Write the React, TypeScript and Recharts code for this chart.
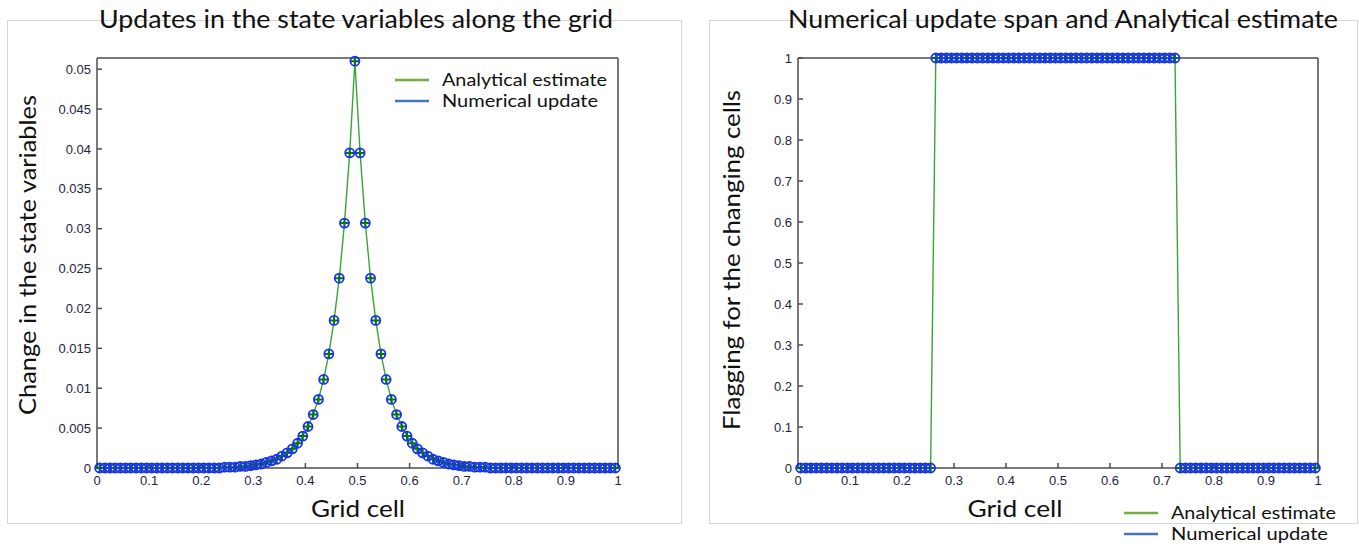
import React from "react"
import { LineChart, Line, XAxis, YAxis, Legend } from "recharts"

// grid cell centres along the unit domain
const gridCells = [
  0.005, 0.015, 0.025, 0.035, 0.045, 0.055, 0.065, 0.075, 0.085, 0.095,
  0.105, 0.115, 0.125, 0.135, 0.145, 0.155, 0.165, 0.175, 0.185, 0.195,
  0.205, 0.215, 0.225, 0.235, 0.245, 0.255, 0.265, 0.275, 0.285, 0.295,
  0.305, 0.315, 0.325, 0.335, 0.345, 0.355, 0.365, 0.375, 0.385, 0.395,
  0.405, 0.415, 0.425, 0.435, 0.445, 0.455, 0.465, 0.475, 0.485, 0.495,
  0.505, 0.515, 0.525, 0.535, 0.545, 0.555, 0.565, 0.575, 0.585, 0.595,
  0.605, 0.615, 0.625, 0.635, 0.645, 0.655, 0.665, 0.675, 0.685, 0.695,
  0.705, 0.715, 0.725, 0.735, 0.745, 0.755, 0.765, 0.775, 0.785, 0.795,
  0.805, 0.815, 0.825, 0.835, 0.845, 0.855, 0.865, 0.875, 0.885, 0.895,
  0.905, 0.915, 0.925, 0.935, 0.945, 0.955, 0.965, 0.975, 0.985, 0.995,
]

// change in the state variables per cell
const stateChange = [
  0, 0, 0, 0, 0, 0, 0, 0, 0, 0,
  0, 0, 0, 0, 0, 0, 0, 0, 0, 0,
  0, 0, 0, 0, 0.0001, 0.0001, 0.0001, 0.0002, 0.0002, 0.0003,
  0.0004, 0.0005, 0.0007, 0.0009, 0.0011, 0.0015, 0.0019, 0.0024, 0.0031, 0.004,
  0.0052, 0.0067, 0.0086, 0.0111, 0.0143, 0.0185, 0.0238, 0.0307, 0.0395, 0.051,
  0.0395, 0.0307, 0.0238, 0.0185, 0.0143, 0.0111, 0.0086, 0.0067, 0.0052, 0.004,
  0.0031, 0.0024, 0.0019, 0.0015, 0.0011, 0.0009, 0.0007, 0.0005, 0.0004, 0.0003,
  0.0002, 0.0002, 0.0001, 0.0001, 0.0001, 0, 0, 0, 0, 0,
  0, 0, 0, 0, 0, 0, 0, 0, 0, 0,
  0, 0, 0, 0, 0, 0, 0, 0, 0, 0,
]

// 1 where a cell changes, 0 elsewhere
const changeFlag = [
  0, 0, 0, 0, 0, 0, 0, 0, 0, 0,
  0, 0, 0, 0, 0, 0, 0, 0, 0, 0,
  0, 0, 0, 0, 0, 0, 1, 1, 1, 1,
  1, 1, 1, 1, 1, 1, 1, 1, 1, 1,
  1, 1, 1, 1, 1, 1, 1, 1, 1, 1,
  1, 1, 1, 1, 1, 1, 1, 1, 1, 1,
  1, 1, 1, 1, 1, 1, 1, 1, 1, 1,
  1, 1, 1, 0, 0, 0, 0, 0, 0, 0,
  0, 0, 0, 0, 0, 0, 0, 0, 0, 0,
  0, 0, 0, 0, 0, 0, 0, 0, 0, 0,
]

const xTicks = [0, 0.1, 0.2, 0.3, 0.4, 0.5, 0.6, 0.7, 0.8, 0.9, 1]
const updateTicks = [0, 0.005, 0.01, 0.015, 0.02, 0.025, 0.03, 0.035, 0.04, 0.045, 0.05]
const flagTicks = [0, 0.1, 0.2, 0.3, 0.4, 0.5, 0.6, 0.7, 0.8, 0.9, 1]

const seriesNames = ["Analytical estimate", "Numerical update"]

const updateRows = gridCells.map((x, i) => ({ x, analytical: stateChange[i], numerical: stateChange[i] }))
const flagRows = gridCells.map((x, i) => ({ x, analytical: changeFlag[i], numerical: changeFlag[i] }))

const AXIS = "#4d4d4d"
const TICK_TEXT = "#23233f"
const LINE_GREEN = "#3aa535"
const PLUS_GREEN = "#007a00"
const CIRCLE_BLUE = "#1a2eff"
const LEGEND_GREEN = "#70ad47"
const LEGEND_BLUE = "#4472c4"
const LABEL_FONT = "Lato, 'Open Sans', sans-serif"

const tickStyle = { fontSize: 13, fill: TICK_TEXT, fontFamily: "'Liberation Sans', Arial, sans-serif" }

function PlusDot(props: any) {
  const { cx, cy, index } = props
  if (cx == null || cy == null) return null
  return (
    <path
      key={`plus-${index}`}
      d={`M${cx - 4.5},${cy}H${cx + 4.5}M${cx},${cy - 4.5}V${cy + 4.5}`}
      stroke={PLUS_GREEN}
      strokeWidth={2}
      fill="none"
    />
  )
}

function CircleDot(props: any) {
  const { cx, cy, index } = props
  if (cx == null || cy == null) return null
  return <circle key={`circ-${index}`} cx={cx} cy={cy} r={4.5} stroke={CIRCLE_BLUE} strokeWidth={1.8} fill="none" />
}

function LegendBlock({ lengths }: { lengths: number[] }) {
  const colors = [LEGEND_GREEN, LEGEND_BLUE]
  return (
    <svg width={250} height={46}>
      {seriesNames.map((name, i) => (
        <g key={name}>
          <line x1={0} x2={34} y1={11 + i * 21} y2={11 + i * 21} stroke={colors[i]} strokeWidth={2.5} />
          <text
            x={47}
            y={17 + i * 21}
            fontSize={18}
            fontFamily={LABEL_FONT}
            fill="#111"
            textLength={lengths[i]}
            lengthAdjust="spacingAndGlyphs"
          >
            {name}
          </text>
        </g>
      ))}
    </svg>
  )
}

interface PanelProps {
  rows: { x: number; analytical: number; numerical: number }[]
  yTicks: number[]
  yMax: number
  width: number
  margin: { top: number; right: number; bottom: number; left: number }
  legendPos: { left: number; top: number }
  legendLengths: number[]
}

function GridPanel({ rows, yTicks, yMax, width, margin, legendPos, legendLengths }: PanelProps) {
  return (
    <LineChart width={width} height={552} data={rows} margin={margin}>
      <XAxis
        dataKey="x"
        type="number"
        domain={[0, 1]}
        ticks={xTicks}
        height={30}
        tickSize={-5}
        tickMargin={13}
        stroke={AXIS}
        strokeWidth={1.5}
        tick={tickStyle}
      />
      {/* top and right axes close the box, ticks pointing inward */}
      <XAxis
        xAxisId="top"
        orientation="top"
        dataKey="x"
        type="number"
        domain={[0, 1]}
        ticks={xTicks}
        height={1}
        tickSize={-5}
        tick={false}
        stroke={AXIS}
        strokeWidth={1.5}
      />
      <YAxis
        type="number"
        domain={[0, yMax]}
        ticks={yTicks}
        width={60}
        tickSize={-5}
        tickMargin={11}
        stroke={AXIS}
        strokeWidth={1.5}
        tick={tickStyle}
      />
      <YAxis
        yAxisId="right"
        orientation="right"
        type="number"
        domain={[0, yMax]}
        ticks={yTicks}
        width={1}
        tickSize={-5}
        tick={false}
        stroke={AXIS}
        strokeWidth={1.5}
      />
      <Line
        dataKey="analytical"
        name={seriesNames[0]}
        stroke={LINE_GREEN}
        strokeWidth={1.4}
        dot={PlusDot}
        isAnimationActive={false}
      />
      <Line
        dataKey="numerical"
        name={seriesNames[1]}
        xAxisId="top"
        yAxisId="right"
        stroke="transparent"
        strokeWidth={0}
        dot={CircleDot}
        isAnimationActive={false}
      />
      <Legend
        layout="vertical"
        align="center"
        verticalAlign="middle"
        wrapperStyle={{ position: "absolute", left: legendPos.left, top: legendPos.top, width: 250 }}
        content={() => <LegendBlock lengths={legendLengths} />}
      />
    </LineChart>
  )
}

const frameStyle: React.CSSProperties = {
  position: "absolute",
  border: "1px solid #d6d6d6",
  boxSizing: "border-box",
}

export default function App() {
  return (
    <div style={{ position: "absolute", left: 0, top: 0, width: 1359, height: 552, background: "#fff", overflow: "hidden" }}>
      <div style={{ ...frameStyle, left: 7, top: 20, width: 675, height: 504 }} />
      <div style={{ ...frameStyle, left: 709, top: 20, width: 649, height: 504 }} />

      <div style={{ position: "absolute", left: 0, top: 0 }}>
        <GridPanel
          rows={updateRows}
          yTicks={updateTicks}
          yMax={0.0514}
          width={690}
          margin={{ top: 57, right: 71, bottom: 54, left: 37 }}
          legendPos={{ left: 395, top: 69 }}
          legendLengths={[165, 156]}
        />
      </div>
      <div style={{ position: "absolute", left: 700, top: 0 }}>
        <GridPanel
          rows={flagRows}
          yTicks={flagTicks}
          yMax={1}
          width={659}
          margin={{ top: 57, right: 40, bottom: 54, left: 38 }}
          legendPos={{ left: 424, top: 502 }}
          legendLengths={[165, 157]}
        />
      </div>

      <svg width={1359} height={552} style={{ position: "absolute", left: 0, top: 0, pointerEvents: "none" }}>
        <g fontFamily={LABEL_FONT} fill="#111">
          <text x={356} y={28} fontSize={25} textAnchor="middle" textLength={514} lengthAdjust="spacingAndGlyphs">
            Updates in the state variables along the grid
          </text>
          <text x={1063} y={28} fontSize={25} textAnchor="middle" textLength={550} lengthAdjust="spacingAndGlyphs">
            Numerical update span and Analytical estimate
          </text>
          <text x={358} y={517} fontSize={24} textAnchor="middle" textLength={94} lengthAdjust="spacingAndGlyphs">
            Grid cell
          </text>
          <text x={1015} y={517} fontSize={24} textAnchor="middle" textLength={95} lengthAdjust="spacingAndGlyphs">
            Grid cell
          </text>
          <text
            transform="translate(36,255) rotate(-90)"
            fontSize={23}
            textAnchor="middle"
            textLength={320}
            lengthAdjust="spacingAndGlyphs"
          >
            Change in the state variables
          </text>
          <text
            transform="translate(740,260) rotate(-90)"
            fontSize={23}
            textAnchor="middle"
            textLength={340}
            lengthAdjust="spacingAndGlyphs"
          >
            Flagging for the changing cells
          </text>
        </g>
      </svg>
    </div>
  )
}
